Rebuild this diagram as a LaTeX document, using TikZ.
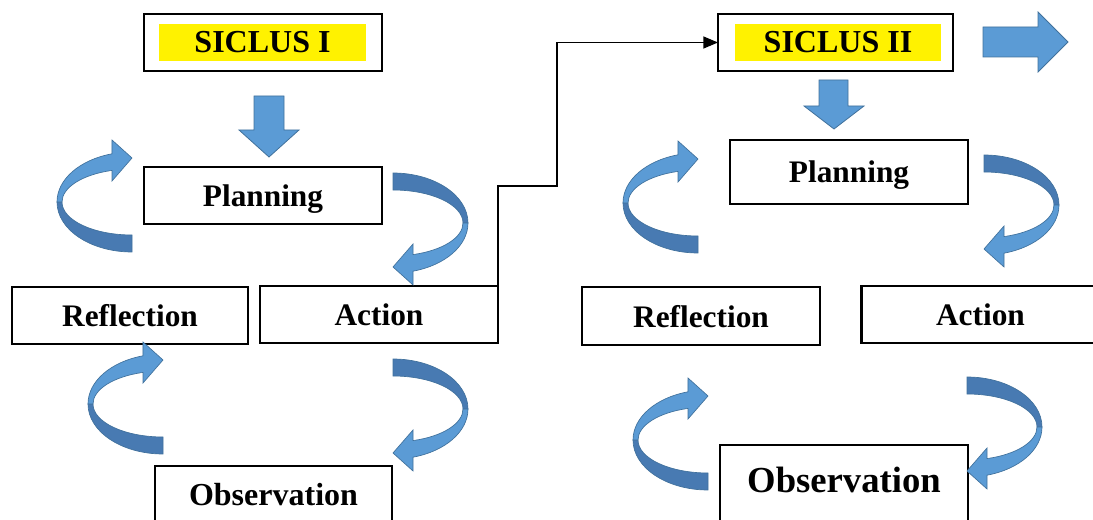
\documentclass[tikz,border=0pt]{standalone}
\usepackage{fontspec}
\setmainfont{Liberation Serif}
\usetikzlibrary{arrows.meta}

\definecolor{arrowblue}{RGB}{91,155,213}
\definecolor{arrowdark}{RGB}{72,122,178}
\definecolor{arrowedge}{RGB}{65,113,156}

\tikzset{every picture/.style={line width=0.75pt}}
\tikzset{
	stagebox/.style={draw, line width=1.8pt, inner sep=0pt, outer sep=0pt,
		minimum width=178.5pt, minimum height=42.75pt, text depth=0pt,
		font=\bfseries\fontsize{23.5}{28}\selectfont},
	titlebox/.style={draw, line width=1.1pt, inner sep=0pt, outer sep=0pt,
		minimum width=178.5pt, minimum height=42.75pt},
	hilite/.style={fill=yellow, inner sep=0pt, minimum height=27.75pt,
		font=\bfseries\fontsize{24}{28}\selectfont},
	blockarrow/.style={fill=arrowblue, draw=arrowedge, line width=0.6pt},
	% pic coordinates run upwards
	pics/loopturn/.style={code={
		% back face
		\draw [fill=arrowdark, draw=arrowedge, line width=0.5pt] (0,-33) -- (0,-50) arc[start angle=-90, end angle=-180, x radius=75, y radius=50] -- (-70,0) arc[start angle=-180, end angle=-90, x radius=70, y radius=33] -- cycle ;
		% front face with head
		\draw [fill=arrowblue, draw=arrowedge, line width=0.5pt] (-75,0) arc[start angle=-180, end angle=-254.5, x radius=75, y radius=50] -- (-20,62) -- (0,44) -- (-20,21) -- (-20,31.6) arc[start angle=-253.4, end angle=-180, x radius=70, y radius=33] -- cycle ;
	}}
}

\begin{document}
\begin{tikzpicture}[x=0.75pt,y=0.75pt,yscale=-1,xscale=1]
	\useasboundingbox (0,0) rectangle (1093,520);

	% Cycle I boxes
	\node [titlebox] (sic1) at (263,42.5) {};
	\node [hilite, minimum width=155.25pt] (lab1) at (262.5,42.5) {SICLUS I};
	\node [stagebox] (plan1) at (263,195.5) {Planning};
	\node [stagebox, minimum width=177pt] (refl1) at (130,315.5) {Reflection};
	\node [stagebox] (act1) at (379,314.5) {Action};
	\node [stagebox, minimum width=177.75pt, font=\bfseries\fontsize{24}{28}\selectfont] (obs1) at (273.5,494.5) {Observation};

	% Cycle II boxes
	\node [titlebox, minimum width=176.25pt] (sic2) at (835.5,42.5) {};
	\node [hilite, minimum width=154.5pt] (lab2) at (838,42.5) {SICLUS II};
	\node [stagebox, minimum height=48pt] (plan2) at (849,172) {Planning};
	\node [stagebox, minimum height=43.5pt] (refl2) at (701,316) {Reflection};
	\node [stagebox] (act2) at (980.5,314.5) {Action};
	\node [stagebox, minimum width=186pt, minimum height=60pt, text depth=7.5pt, font=\bfseries\fontsize{27.5}{32}\selectfont] (obs2) at (844,485) {Observation};

	%Shape: Down Arrow
	\draw [blockarrow] (254,96) -- (284,96) -- (284,130) -- (299,130) -- (269,157) -- (239,130) -- (254,130) -- cycle ;
	%Shape: Down Arrow
	\draw [blockarrow] (819,80) -- (848,80) -- (848,106) -- (864,106) -- (834,129) -- (804,106) -- (819,106) -- cycle ;
	%Shape: Right Arrow
	\draw [blockarrow] (983,27) -- (1038,27) -- (1038,12) -- (1068,42) -- (1038,72) -- (1038,57) -- (983,57) -- cycle ;

	%Shape: Curved Arrows
	\pic at (132,202) {loopturn};
	\pic at (163,404) {loopturn};
	\pic at (698,203) {loopturn};
	\pic at (708,440) {loopturn};
	\pic [rotate=180] at (393,223) {loopturn};
	\pic [rotate=180] at (393,409) {loopturn};
	\pic [rotate=180] at (984,205) {loopturn};
	\pic [rotate=180] at (967,427) {loopturn};

	%Elbow connector
	\coordinate (jog) at (557,186);
	\draw [line width=1pt, -{Triangle[length=11pt,width=9pt]}] (act1.north east) |- (jog) |- (sic2.west) ;

\end{tikzpicture}
\end{document}
